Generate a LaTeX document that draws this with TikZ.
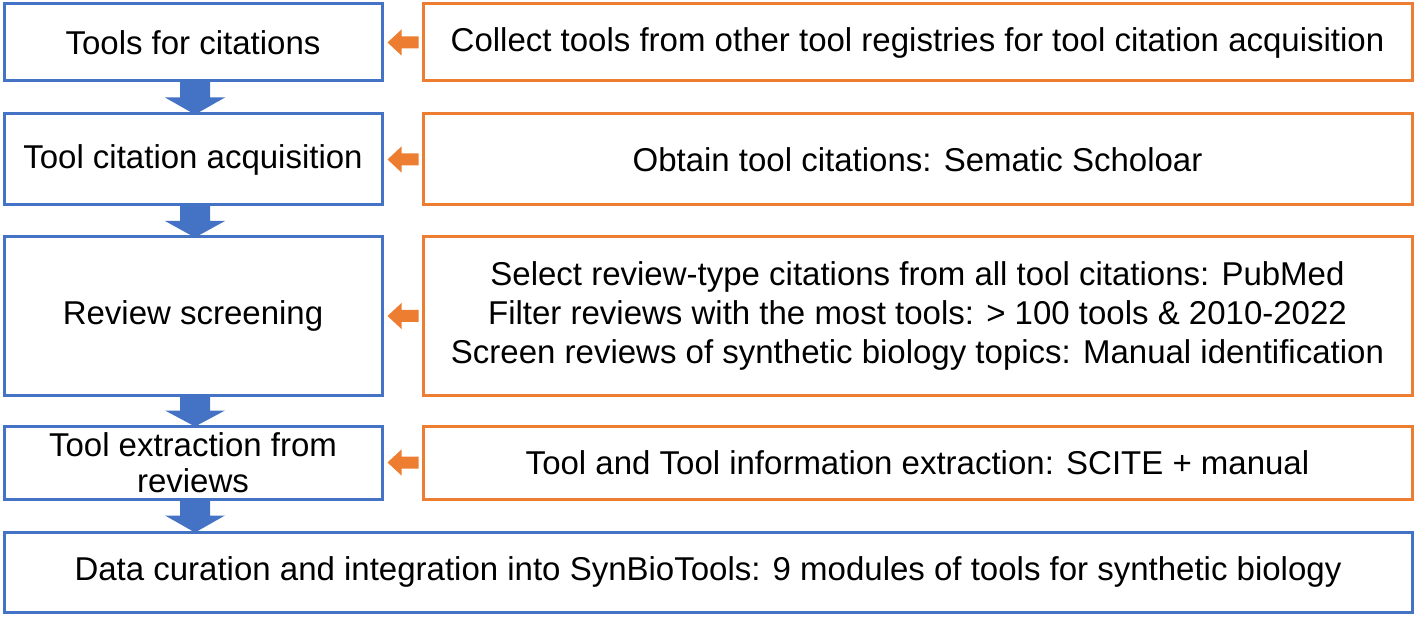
\documentclass[tikz,border=0pt]{standalone}
\usepackage{fontspec}
\setmainfont{Liberation Sans}
\usetikzlibrary{calc}
\definecolor{bl}{HTML}{4472C4}
\definecolor{og}{HTML}{ED7D31}
\begin{document}
\begin{tikzpicture}[x=1pt,y=-1pt,
  box/.style={draw=#1,line width=3pt,inner sep=0pt},
  lb/.style={box=bl},rb/.style={box=og}]
\useasboundingbox (0,0) rectangle (1416,617);
\newcommand{\mkbox}[6]{\node[#1,minimum width=#4-#3,minimum height=#6-#5] (#2) at ({(#3+#4)/2},{(#5+#6)/2}) {};}
\mkbox{lb}{l1}{4}{382}{4}{81}
\mkbox{lb}{l2}{4}{382}{114}{205}
\mkbox{lb}{l3}{4}{382}{237}{395}
\mkbox{lb}{l4}{4}{382}{426}{499}
\mkbox{lb}{l5}{4}{1412}{532}{612}
\mkbox{rb}{r1}{423}{1412}{4}{81}
\mkbox{rb}{r2}{423}{1412}{114}{205}
\mkbox{rb}{r3}{423}{1412}{237}{395}
\mkbox{rb}{r4}{423}{1412}{426}{499}
\tikzset{txt/.style={font=\fontsize{33}{39}\selectfont,align=center,inner sep=0pt}}
\node[txt] at (l1) {Tools for citations};
\node[txt] at (l2) {Tool citation acquisition};
\node[txt] at (l3) {Review screening};
\node[txt,font=\fontsize{33}{36}\selectfont] at (l4) {Tool extraction from\\reviews};
\node[txt] at (l5) {Data curation and integration into SynBioTools: 9 modules of tools for synthetic biology};
\node[txt] at (r1) {Collect tools from other tool registries for tool citation acquisition};
\node[txt] at (r2) {Obtain tool citations: Sematic Scholoar};
\node[txt] at (r3) {Select review-type citations from all tool citations: PubMed\\Filter reviews with the most tools: > 100 tools \& 2010-2022\\Screen reviews of synthetic biology topics: Manual identification};
\node[txt] at (r4) {Tool and Tool information extraction: SCITE + manual};
% down block arrows
\newcommand{\darr}[2]{\path let \p1=(#1.south), \p2=(#2.north) in
  [fill=bl] (180,\y1+2) -- (210,\y1+2) -- (210,{(\y1+\y2)/2}) -- (225,{(\y1+\y2)/2}) -- (195,\y2-2) -- (165,{(\y1+\y2)/2}) -- (180,{(\y1+\y2)/2}) -- cycle;}
\newcommand{\larr}[2]{\path let \p1=(#1.west), \p2=(#2.east) in
  [fill=og] (\x1-3,\y1-6) -- (\x1-3,\y1+6) -- (\x2+18,\y1+6) -- (\x2+18,\y1+13) -- (\x2+4,\y1) -- (\x2+18,\y1-13) -- (\x2+18,\y1-6) -- cycle;}
\darr{l1}{l2}\darr{l2}{l3}\darr{l3}{l4}\darr{l4}{l5}
\larr{r1}{l1}\larr{r2}{l2}\larr{r3}{l3}\larr{r4}{l4}
\end{tikzpicture}
\end{document}
